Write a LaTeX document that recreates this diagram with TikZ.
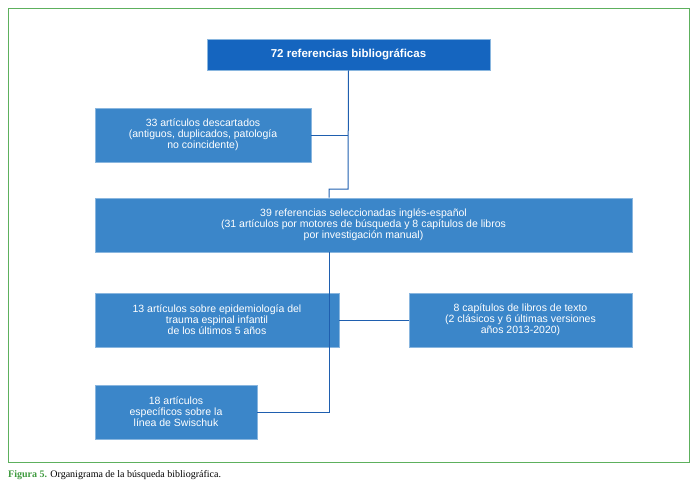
\documentclass[tikz,border=0pt]{standalone}
\usepackage{fontspec}
\setmainfont{Liberation Serif}
\newfontfamily\boxfont{Liberation Sans}
\definecolor{dkblue}{HTML}{1565BF}
\definecolor{ltblue}{HTML}{3B86C9}
\definecolor{lnblue}{HTML}{1F5FAF}
\definecolor{frgreen}{HTML}{5DB05D}
\definecolor{capgreen}{HTML}{3E9A3E}
\begin{document}
\begin{tikzpicture}[x=1pt,y=-1pt,
  bx/.style={fill=ltblue,draw=ltblue!60!white,line width=0.6pt,text=white,font=\boxfont\fontsize{10.5}{11}\selectfont,align=center,inner sep=0pt},
  ln/.style={draw=lnblue,line width=1pt}]
\useasboundingbox (0,0) rectangle (699,496);
\draw[frgreen,line width=0.8pt] (8,8) rectangle (689,462);
\node[bx,fill=dkblue,font=\boxfont\bfseries\fontsize{11.5}{12}\selectfont,minimum width=283pt,minimum height=31pt] (a) at (348.5,54.5) {72 referencias bibliográficas};
\node[bx,minimum width=216pt,minimum height=54pt] (b) at (203,135) {33 artículos descartados\\(antiguos, duplicados, patología\\no coincidente)};
\node[bx,minimum width=537pt,minimum height=54pt] (c) at (363.5,225) {39 referencias seleccionadas inglés-español\\(31 artículos por motores de búsqueda y 8 capítulos de libros\\por investigación manual)};
\node[bx,minimum width=244pt,minimum height=54pt] (d) at (217,320) {13 artículos sobre epidemiología del\\trauma espinal infantil\\de los últimos 5 años};
\node[bx,minimum width=223pt,minimum height=54pt] (e) at (520.5,320) {8 capítulos de libros de texto\\(2 clásicos y 6 últimas versiones\\años 2013-2020)};
\node[bx,minimum width=162pt,minimum height=54pt] (f) at (176,412) {18 artículos\\específicos sobre la\\línea de Swischuk};
\coordinate (j1) at (348,189);
\coordinate (j2) at (329,189);
\draw[ln] (a.south) -- (j1) -- (j2) -- (j2|-c.north);
\draw[ln] (b.east) -- (b.east-|j1);
\draw[ln] (j2|-c.south) -- (j2|-f.east) -- (f.east);
\draw[ln] (d.east) -- (e.west);
\node[anchor=west,font=\fontsize{10}{12}\selectfont,inner sep=0pt] (cap) at (8,475) {\textcolor{capgreen}{\textbf{Figura 5.}} Organigrama de la búsqueda bibliográfica.};
\end{tikzpicture}
\end{document}
